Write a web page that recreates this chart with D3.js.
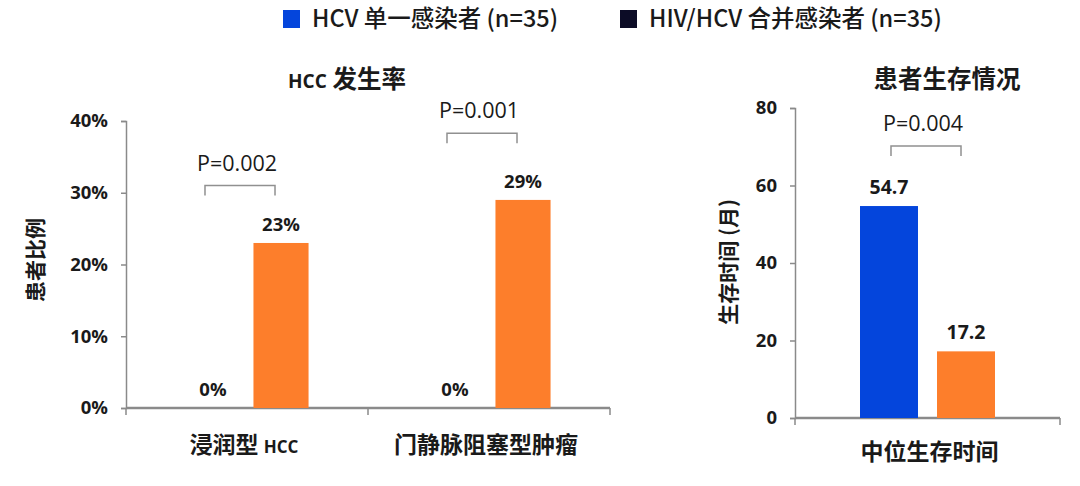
<!DOCTYPE html>
<html><head><meta charset="utf-8">
<script src="https://cdn.jsdelivr.net/npm/d3@7"></script>
<style>
html,body{margin:0;padding:0;background:#fff;}
svg{display:block;font-family:"Noto Sans CJK SC","Noto Sans",sans-serif;}
</style></head>
<body>
<svg id="c" width="1080" height="486"></svg>
<script>
// ---- data ----
const seriesNames = ["HCV 单一感染者 (n=35)", "HIV/HCV 合并感染者 (n=35)"];
const hccCategories = ["浸润型 HCC", "门静脉阻塞型肿瘤"];
const hccMono = [0, 0];          // %
const hccCoinf = [23, 29];       // %
const hccPValues = ["P=0.002", "P=0.001"];
const hccBracketLevel = [31, 38.3];
const hccTicks = [0, 10, 20, 30, 40];

const survCategories = ["中位生存时间"];
const survMono = [54.7];
const survCoinf = [17.2];
const survPValues = ["P=0.004"];
const survBracketLevel = [70.2];
const survTicks = [0, 20, 40, 60, 80];

const colors = {mono: "#0445dc", coinf: "#fd7e2b", legendCoinf: "#0c0c26", axis: "#8a8a8a", text: "#1a1a1a"};
const latinFont = "'Open Sans','Noto Sans',sans-serif";

const svg = d3.select("#c");

// write text where latin words (e.g. HCC) are set smaller than CJK
function mixedText(sel, str, cjkSize, latinSize) {
  const parts = str.match(/[A-Za-z]+|[^A-Za-z]+/g);
  parts.forEach(p => {
    const isLatin = /^[A-Za-z]+$/.test(p);
    sel.append("tspan").attr("font-size", isLatin ? latinSize : cjkSize)
      .attr("font-family", isLatin ? latinFont : null).text(p);
  });
}

// ---- legend ----
const legend = svg.append("g");
const legX = [283, 620];
const legColors = [colors.mono, colors.legendCoinf];
seriesNames.forEach((n, i) => {
  legend.append("rect").attr("x", legX[i]).attr("y", 10).attr("width", 17).attr("height", 18).attr("fill", legColors[i]);
  legend.append("text").attr("x", legX[i] + 29).attr("y", 27).attr("font-size", 23.5).attr("font-weight", 500)
    .attr("fill", colors.text).text(n);
});

function drawPanel(o) {
  const g = svg.append("g");
  const x = d3.scaleBand().domain(o.categories).range([o.x0, o.x1]).paddingInner(0).paddingOuter(0);
  const xs = d3.scaleBand().domain(["mono", "coinf"]).range([0, x.bandwidth()])
    .paddingInner(o.pi).paddingOuter(o.po);
  const y = d3.scaleLinear().domain([0, o.max]).range([o.y0, o.y1]);

  // y axis
  const ya = d3.axisLeft(y).tickValues(o.ticks).tickSize(5).tickPadding(o.tickPad)
    .tickFormat(o.fmt);
  const yg = g.append("g").attr("transform", `translate(${o.x0},0)`).call(ya);
  yg.select(".domain").attr("stroke", colors.axis).attr("stroke-width", 1.5);
  yg.selectAll(".tick line").attr("stroke", colors.axis).attr("stroke-width", 1.5);
  yg.selectAll(".tick text").attr("font-size", 18.5).attr("font-weight", 700).attr("fill", colors.text)
    .attr("font-family", latinFont);

  // x axis
  const xa = d3.axisBottom(x).tickSize(0).tickFormat("");
  const xg = g.append("g").attr("transform", `translate(0,${o.y0})`).call(xa);
  xg.select(".domain").attr("stroke", colors.axis).attr("stroke-width", 2.5).attr("d", `M${o.x0},0H${o.x1}`);
  const bounds = o.categories.map(c => x(c)).concat([o.x1]);
  xg.selectAll("line.sep").data(bounds).join("line").attr("class", "sep")
    .attr("x1", d => d).attr("x2", d => d).attr("y1", 0).attr("y2", 7)
    .attr("stroke", colors.axis).attr("stroke-width", 1.5);

  // category labels
  o.categories.forEach(c => {
    const t = g.append("text").attr("class", "cat")
      .attr("x", x(c) + x.bandwidth() / 2 + o.catDx).attr("y", o.catY)
      .attr("text-anchor", "middle").attr("font-weight", 700).attr("fill", colors.text);
    mixedText(t, c, 23, 17);
  });

  // bars
  const rows = [];
  o.categories.forEach((c, i) => {
    rows.push({c, s: "mono", v: o.mono[i]});
    rows.push({c, s: "coinf", v: o.coinf[i]});
  });
  g.selectAll("rect.bar").data(rows.filter(r => r.v > 0)).join("rect").attr("class", "bar")
    .attr("x", d => x(d.c) + xs(d.s)).attr("width", xs.bandwidth())
    .attr("y", d => y(d.v)).attr("height", d => y(0) - y(d.v))
    .attr("fill", d => colors[d.s]);

  // value labels
  g.selectAll("text.val").data(rows).join("text").attr("class", "val")
    .attr("x", d => x(d.c) + xs(d.s) + xs.bandwidth() / 2).attr("y", d => y(d.v) - 12)
    .attr("text-anchor", "middle").attr("font-size", o.valSize).attr("font-weight", 700).attr("fill", colors.text)
    .attr("font-family", latinFont)
    .text(d => o.valFmt(d.v));

  // brackets
  o.categories.forEach((c, i) => {
    const xa1 = x(c) + xs("mono") + xs.bandwidth() / 2 + o.brDx[0];
    const xa2 = x(c) + xs("coinf") + xs.bandwidth() / 2 + o.brDx[1];
    const yb = y(o.bracket[i]);
    g.append("path").attr("d", `M${xa1},${yb + 10}V${yb}H${xa2}V${yb + 10}`)
      .attr("fill", "none").attr("stroke", "#909090").attr("stroke-width", 1.5);
    g.append("text").attr("x", (xa1 + xa2) / 2 - 3).attr("y", yb - 15)
      .attr("text-anchor", "middle").attr("font-size", 21.5).attr("fill", colors.text)
      .attr("font-family", latinFont)
      .text(o.pvals[i]);
  });

  // title
  const tt = g.append("text").attr("x", o.titleX).attr("y", 88).attr("text-anchor", "middle")
    .attr("font-weight", 700).attr("fill", colors.text);
  mixedText(tt, o.title, 24.5, 19);

  // y title
  g.append("text").attr("transform", `translate(${o.ytX},${o.ytY}) rotate(-90)`)
    .attr("text-anchor", "middle").attr("font-size", o.ytSize).attr("font-weight", 700).attr("fill", colors.text)
    .text(o.ytitle);
}

drawPanel({
  categories: hccCategories, mono: hccMono, coinf: hccCoinf, pvals: hccPValues, bracket: hccBracketLevel,
  ticks: hccTicks, max: 40, x0: 126, x1: 610, y0: 408, y1: 121, pi: 0.19, po: 0.874, tickPad: 13,
  fmt: d => d + "%", valFmt: v => v + "%", valSize: 18.5, brDx: [-8, -6], catY: 453, catDx: -3,
  title: "HCC 发生率", titleX: 347, ytitle: "患者比例", ytX: 43, ytY: 260, ytSize: 21
});

drawPanel({
  categories: survCategories, mono: survMono, coinf: survCoinf, pvals: survPValues, bracket: survBracketLevel,
  ticks: survTicks, max: 80, x0: 795, x1: 1060, y0: 418, y1: 108, pi: 0.247, po: 0.844, tickPad: 13,
  fmt: d => d, valFmt: v => v.toFixed(1), valSize: 19.5, brDx: [2, -5], catY: 460, catDx: 2,
  title: "患者生存情况", titleX: 947, ytitle: "生存时间 (月)", ytX: 736, ytY: 262, ytSize: 21
});
</script>
</body></html>
